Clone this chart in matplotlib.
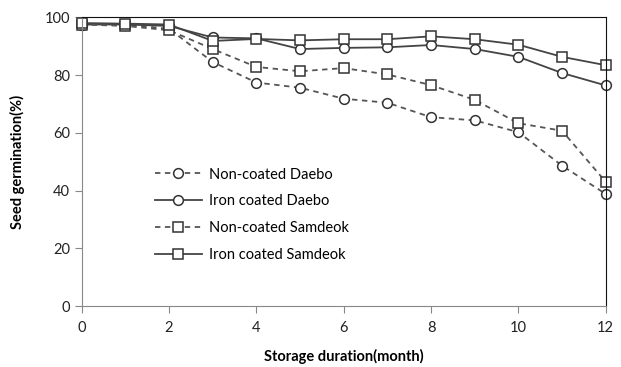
import matplotlib
matplotlib.use("Agg")
import matplotlib.pyplot as plt

months = [0, 1, 2, 3, 4, 5, 6, 7, 8, 9, 10, 11, 12]
non_daebo = [97.5, 97.5, 96.0, 84.5, 77.4, 75.6, 71.8, 70.4, 65.4, 64.3, 60.2, 48.6, 38.8]
iron_daebo = [97.5, 97.5, 97.0, 93.0, 92.7, 89.0, 89.4, 89.6, 90.4, 89.0, 86.3, 80.7, 76.4]
non_samdeok = [97.5, 97.0, 95.5, 89.0, 82.8, 81.3, 82.4, 80.2, 76.5, 71.4, 63.3, 60.7, 43.0]
iron_samdeok = [98.0, 97.8, 97.5, 91.8, 92.5, 92.0, 92.4, 92.4, 93.4, 92.4, 90.5, 86.3, 83.4]
labels = ["Non-coated Daebo", "Iron coated Daebo", "Non-coated Samdeok", "Iron coated Samdeok"]

plt.rcParams['font.family'] = ['Lato', 'DejaVu Sans']

fig = plt.figure(figsize=(6.21, 3.67), dpi=100)
ax = fig.add_axes([0.1316, 0.1662, 0.8438, 0.7867])

mk = dict(markersize=7, markerfacecolor='white', markeredgecolor='#333333', markeredgewidth=1.1)
ax.plot(months, non_daebo, linestyle=(0, (3, 2.5)), color='#555555', lw=1.3, marker='o', label=labels[0], **mk)
ax.plot(months, iron_daebo, linestyle='-', color='#444444', lw=1.3, marker='o', label=labels[1], **mk)
ax.plot(months, non_samdeok, linestyle=(0, (3, 2.5)), color='#555555', lw=1.3, marker='s', label=labels[2], **mk)
ax.plot(months, iron_samdeok, linestyle='-', color='#444444', lw=1.3, marker='s', label=labels[3], **mk)

ax.set_xlim(0, 12)
ax.set_ylim(0, 100)
ax.set_xticks(range(0, 13, 2))
ax.set_yticks(range(0, 101, 20))
for s in ['left', 'bottom']:
    ax.spines[s].set_color('#888888')
for s in ['top', 'right']:
    ax.spines[s].set_color('#111111')
ax.tick_params(axis='both', direction='out', length=5, color='#888888', labelsize=10.5, labelcolor='#222222')
ax.tick_params(axis='x', pad=6)
ax.set_xlabel("Storage duration(month)", fontsize=10.5, fontweight='bold', labelpad=10)
ax.set_ylabel("Seed germination(%)", fontsize=10.5, fontweight='bold', labelpad=14)

leg = ax.legend(loc='upper left', bbox_to_anchor=(0.115, 0.525), frameon=False, fontsize=10.5,
                handlelength=3.2, labelspacing=0.88, handletextpad=0.5)
for ln in ax.lines:
    ln.set_clip_on(False)

fig.savefig("out.png", dpi=100)
